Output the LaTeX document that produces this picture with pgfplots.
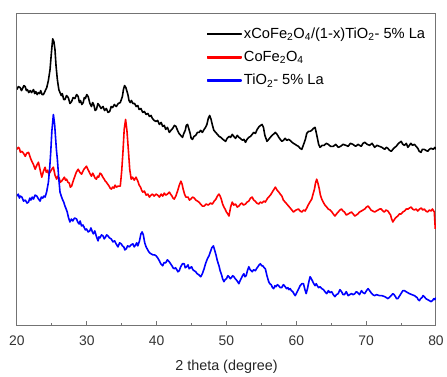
\documentclass[border=0pt]{standalone}
\usepackage{pgfplots}
\pgfplotsset{compat=1.18}
\usepackage{fontspec}
\setmainfont{Liberation Sans}
\begin{document}
\begin{tikzpicture}
\begin{axis}[
  scale only axis, width=421bp, height=313bp,
  xmin=20, xmax=80, ymin=14, ymax=327, y dir=reverse,
  xtick={20,30,...,80}, minor xtick={25,35,...,75},
  xtick pos=bottom, xtick align=inside,
  major tick length=5bp, minor tick length=3bp,
  ytick=\empty,
  axis line style={draw=black!55, line width=1bp},
  every tick/.style={draw=black!55, line width=1bp},
  /pgf/number format/assume math mode=true,
  tick label style={font=\fontsize{14}{16}\selectfont, text=black!80},
  xticklabel style={yshift=-6.5bp},
  xlabel={2 theta (degree)},
  xlabel style={font=\fontsize{14.5}{17}\selectfont, text=black!85, yshift=-8bp},
  legend style={draw=none, fill=none, at={(rel axis cs:0.452,0.962)}, anchor=north west,
    font=\fontsize{14.8}{17}\selectfont, row sep=7.3bp, inner sep=0pt},
  legend cell align=left,
  legend image code/.code={\fill[#1] (0bp,-0.6bp) rectangle (34bp,0.6bp);},
  every axis plot/.append style={line width=1.6bp, line join=round},
]
\addplot[black] coordinates {
(20.00,90) (20.2,87) (20.47,88) (20.65,91) (20.8,89) (21.0,86) (21.19,87) (21.35,91) (21.5,90) (21.7,93) (21.9,91)
(22.1,93) (22.37,90) (22.55,94) (22.7,92) (22.9,95) (23.08,93) (23.25,94) (23.4,91) (23.6,95) (23.79,95) (24.0,92)
(24.27,88) (24.5,81) (24.74,70) (24.95,52) (25.12,39) (25.3,42) (25.45,50) (25.6,66) (25.79,80) (26.0,90) (26.17,93)
(26.35,96) (26.5,94) (26.7,100) (26.88,100) (27.1,96) (27.35,98) (27.6,104) (27.83,102) (28.05,98) (28.3,99)
(28.55,95) (28.77,97) (28.95,103) (29.1,101) (29.3,105) (29.49,103) (29.65,98) (29.8,99) (30.0,95) (30.20,97)
(30.45,104) (30.67,107) (30.85,103) (31.0,105) (31.2,111) (31.38,110) (31.6,104) (31.8,106) (32.05,109) (32.33,107)
(32.55,111) (32.8,109) (33.05,113) (33.28,112) (33.5,107) (33.7,108) (33.95,105) (34.23,107) (34.5,104) (34.80,103)
(35.1,97) (35.25,90) (35.41,86) (35.6,88) (35.89,95) (36.05,101) (36.22,103) (36.4,101) (36.6,104) (36.85,104)
(37.08,107) (37.3,106) (37.5,110) (37.75,109) (38.02,113) (38.25,112) (38.5,115) (38.75,114) (38.97,117) (39.2,116)
(39.4,119) (39.65,121) (39.92,122) (40.15,121) (40.4,125) (40.65,123) (40.87,127) (41.1,126) (41.3,130) (41.55,128)
(41.82,133) (42.05,131) (42.3,129) (42.55,126) (42.77,127) (43.0,131) (43.2,134) (43.45,136) (43.71,138) (43.9,134)
(44.1,131) (44.25,126) (44.43,125) (44.6,129) (44.8,134) (44.95,139) (45.14,140) (45.35,137) (45.6,136) (45.85,133)
(46.09,133) (46.3,131) (46.55,133) (46.80,130) (47.0,128) (47.2,125) (47.4,119) (47.60,116) (47.8,120) (48.0,126)
(48.2,131) (48.46,133) (48.7,135) (48.95,137) (49.2,138) (49.5,140) (49.88,142) (50.1,139) (50.4,137) (50.6,138)
(50.83,135) (51.05,137) (51.3,139) (51.55,136) (51.78,138) (52.0,139) (52.3,141) (52.5,140) (52.73,143) (52.95,140)
(53.2,138) (53.45,137) (53.68,135) (53.9,133) (54.15,134) (54.4,130) (54.7,127) (54.9,126) (55.10,125) (55.3,128)
(55.5,136) (55.81,142) (56.05,140) (56.4,137) (56.7,135) (57.00,133) (57.25,135) (57.5,138) (57.7,140) (57.94,142)
(58.15,141) (58.4,139) (58.65,141) (58.89,140) (59.1,141) (59.4,143) (59.6,144) (59.84,145) (60.05,146) (60.3,147)
(60.55,149) (60.79,150) (61.0,146) (61.3,140) (61.5,134) (61.74,132) (61.95,132) (62.2,131) (62.45,129) (62.69,128)
(62.85,133) (63.0,138) (63.2,145) (63.40,148) (63.7,146) (64.0,146) (64.3,144) (64.58,145) (64.9,147) (65.3,147)
(65.65,145) (66.01,148) (66.35,147) (66.7,145) (67.1,146) (67.43,147) (67.75,144) (68.1,145) (68.5,147) (68.85,145)
(69.05,146) (69.3,147) (69.55,144) (69.8,143) (70.15,145) (70.5,146) (70.85,144) (71.22,148) (71.55,146) (71.9,147)
(72.25,148) (72.65,150) (72.9,148) (73.1,149) (73.35,151) (73.6,152) (73.95,149) (74.3,147) (74.65,144) (75.02,142)
(75.25,145) (75.5,146) (75.75,144) (75.97,148) (76.2,146) (76.4,144) (76.65,146) (76.92,145) (77.15,147) (77.4,149)
(77.6,152) (77.86,153) (78.05,150) (78.3,150) (78.55,151) (78.81,152) (79.05,150) (79.3,149) (79.6,150) (79.86,148)
(80.0,150)
};
\addlegendentry{xCoFe\textsubscript{2}O\textsubscript{4}/(1-x)TiO\textsubscript{2}- 5\% La}
\addplot[red] coordinates {
(20.00,150) (20.2,148) (20.35,149) (20.5,153) (20.71,152) (20.95,154) (21.19,157) (21.4,154) (21.66,153) (21.9,158)
(22.13,162) (22.35,165) (22.61,170) (22.85,166) (23.08,163) (23.3,170) (23.56,178) (23.8,172) (24.03,168) (24.2,173)
(24.4,171) (24.55,175) (24.74,173) (25.0,170) (25.22,168) (25.45,176) (25.69,180) (25.85,177) (26.05,179) (26.2,183)
(26.40,182) (26.6,180) (26.8,178) (26.95,181) (27.11,180) (27.3,183) (27.5,184) (27.65,188) (27.83,187) (28.05,182)
(28.3,177) (28.5,173) (28.77,170) (29.0,173) (29.25,175) (29.6,170) (29.96,167) (30.15,170) (30.3,172) (30.5,175)
(30.67,177) (30.85,174) (31.0,176) (31.2,179) (31.38,180) (31.55,177) (31.7,178) (31.9,174) (32.09,175) (32.3,178)
(32.5,180) (32.65,182) (32.81,183) (33.0,185) (33.2,187) (33.35,189) (33.52,190) (33.7,188) (33.9,189) (34.05,186)
(34.23,188) (34.5,187) (34.80,187) (35.0,172) (35.18,153) (35.36,130) (35.56,120) (35.75,131) (35.98,153) (36.15,170)
(36.36,180) (36.55,178) (36.8,181) (37.05,178) (37.31,182) (37.5,186) (37.7,188) (37.85,191) (38.02,193) (38.25,192)
(38.5,196) (38.75,195) (38.97,198) (39.2,196) (39.4,195) (39.65,197) (39.92,195) (40.15,196) (40.4,198) (40.65,195)
(40.87,197) (41.1,194) (41.3,196) (41.55,195) (41.82,193) (42.0,195) (42.2,197) (42.35,199) (42.53,200) (42.75,197)
(43.0,192) (43.25,186) (43.48,182) (43.65,185) (43.8,190) (44.0,195) (44.19,198) (44.5,198) (44.70,201) (44.90,200)
(45.15,198) (45.4,199) (45.6,201) (45.85,202) (46.05,203) (46.3,205) (46.55,207) (46.80,207) (47.1,205) (47.4,206)
(47.7,204) (47.98,205) (48.25,202) (48.5,200) (48.7,197) (48.93,195) (49.1,197) (49.3,201) (49.45,205) (49.64,208)
(49.8,210) (50.0,213) (50.2,215) (50.36,217) (50.6,208) (50.83,203) (51.05,206) (51.3,205) (51.55,208) (51.78,207)
(52.0,205) (52.2,204) (52.45,206) (52.73,205) (52.95,203) (53.2,202) (53.45,199) (53.68,198) (53.9,201) (54.1,202)
(54.35,204) (54.62,205) (54.85,203) (55.1,204) (55.35,202) (55.57,203) (55.9,199) (56.3,196) (56.65,192) (57.00,188)
(57.25,191) (57.5,193) (57.7,195) (57.94,197) (58.15,201) (58.4,203) (58.65,205) (58.89,207) (59.25,210) (59.60,213)
(59.95,211) (60.32,210) (60.55,212) (60.8,213) (61.05,211) (61.26,212) (61.5,209) (61.7,206) (61.95,203) (62.21,200)
(62.4,195) (62.6,190) (62.75,184) (62.92,180) (63.1,184) (63.3,190) (63.45,196) (63.64,200) (63.85,203) (64.1,206)
(64.35,208) (64.58,210) (64.85,211) (65.1,213) (65.3,215) (65.53,217) (65.75,215) (66.0,213) (66.25,211) (66.48,210)
(66.7,212) (66.9,213) (67.15,216) (67.43,215) (67.65,214) (67.9,213) (68.15,215) (68.38,217) (68.6,216) (68.8,215)
(69.05,213) (69.33,212) (69.55,211) (69.8,210) (70.05,208) (70.28,207) (70.5,209) (70.7,211) (70.95,212) (71.22,213)
(71.45,212) (71.7,211) (71.95,210) (72.17,210) (72.4,212) (72.6,213) (72.85,211) (73.12,212) (73.3,214) (73.5,216)
(73.65,220) (73.83,223) (74.0,221) (74.2,219) (74.35,218) (74.54,217) (74.75,215) (75.0,215) (75.25,213) (75.49,212)
(75.75,210) (76.0,210) (76.2,209) (76.44,208) (76.65,210) (76.9,211) (77.15,210) (77.39,212) (77.65,210) (77.9,209)
(78.1,211) (78.33,210) (78.55,212) (78.8,213) (79.05,211) (79.29,212) (79.5,210) (79.76,213) (79.90,230)
};
\addlegendentry{CoFe\textsubscript{2}O\textsubscript{4}}
\addplot[blue] coordinates {
(20.00,197) (20.2,195) (20.35,199) (20.5,197) (20.71,198) (20.95,202) (21.2,201) (21.45,204) (21.66,203) (21.85,199)
(22.0,201) (22.2,198) (22.37,200) (22.6,196) (22.85,197) (23.1,200) (23.32,202) (23.5,198) (23.7,199) (23.85,197)
(24.03,198) (24.25,193) (24.51,183) (24.7,168) (24.84,153) (25.0,132) (25.22,115) (25.4,125) (25.55,140) (25.65,150)
(25.79,160) (26.0,180) (26.17,193) (26.35,197) (26.5,200) (26.7,203) (26.88,207) (27.05,210) (27.2,213) (27.4,219)
(27.59,223) (27.8,220) (28.0,222) (28.25,219) (28.54,220) (28.7,223) (28.9,225) (29.05,222) (29.25,227) (29.45,226)
(29.6,228) (29.8,231) (29.96,230) (30.2,233) (30.43,232) (30.6,229) (30.8,233) (30.95,235) (31.15,232) (31.4,238)
(31.62,242) (31.75,238) (31.9,239) (32.1,236) (32.33,237) (32.5,240) (32.7,238) (32.85,236) (33.04,237) (33.25,239)
(33.5,240) (33.75,243) (33.99,242) (34.2,245) (34.47,248) (34.7,244) (34.94,245) (35.1,247) (35.3,248) (35.45,251)
(35.65,250) (35.85,247) (36.1,248) (36.35,246) (36.60,245) (36.8,248) (37.0,246) (37.15,244) (37.31,247) (37.55,242)
(37.75,235) (37.93,233) (38.1,236) (38.3,244) (38.50,248) (38.65,250) (38.8,252) (39.0,254) (39.21,255) (39.45,256)
(39.7,256) (39.92,257) (40.15,259) (40.4,262) (40.6,265) (40.87,267) (41.05,264) (41.3,264) (41.55,261) (41.82,263)
(42.0,265) (42.2,267) (42.35,269) (42.53,270) (42.7,269) (42.9,271) (43.05,273) (43.24,272) (43.45,268) (43.7,265)
(43.95,265) (44.1,269) (44.3,268) (44.5,266) (44.66,270) (44.85,269) (45.0,268) (45.2,271) (45.38,272) (45.6,273)
(45.8,275) (46.05,276) (46.32,278) (46.55,275) (46.8,270) (47.0,265) (47.27,260) (47.5,257) (47.7,253) (47.9,249)
(48.13,247) (48.3,251) (48.5,256) (48.7,262) (48.93,267) (49.1,272) (49.3,276) (49.45,280) (49.64,283) (49.8,281)
(50.0,280) (50.2,277) (50.36,278) (50.55,280) (50.7,279) (50.9,277) (51.07,278) (51.25,280) (51.4,281) (51.6,283)
(51.78,285) (51.95,282) (52.1,280) (52.3,277) (52.49,275) (52.65,278) (52.82,277) (53.0,272) (53.20,268) (53.4,271)
(53.68,273) (53.9,271) (54.15,272) (54.3,270) (54.5,268) (54.7,266) (54.86,265) (55.05,267) (55.2,267) (55.4,269)
(55.57,270) (55.8,277) (56.05,283) (56.2,285) (56.4,286) (56.6,289) (56.76,290) (56.95,287) (57.1,288) (57.3,286)
(57.47,287) (57.7,289) (57.9,289) (58.15,286) (58.42,288) (58.6,290) (58.8,289) (58.95,291) (59.13,290) (59.3,292)
(59.5,293) (59.65,295) (59.84,297) (60.0,295) (60.2,292) (60.35,290) (60.55,287) (60.8,285) (61.03,285) (61.2,290)
(61.41,295) (61.6,290) (61.8,283) (61.98,278) (62.15,280) (62.3,282) (62.5,285) (62.69,287) (62.85,285) (63.0,287)
(63.2,289) (63.40,288) (63.65,290) (63.9,291) (64.1,293) (64.35,295) (64.6,292) (64.8,294) (65.06,293) (65.3,296)
(65.53,298) (65.75,296) (66.0,295) (66.25,291) (66.48,293) (66.7,296) (66.9,296) (67.15,293) (67.43,297) (67.65,296)
(67.9,295) (68.15,296) (68.38,295) (68.6,293) (68.8,294) (69.05,296) (69.33,292) (69.55,294) (69.80,295) (70.05,292)
(70.28,290) (70.5,292) (70.7,294) (70.95,296) (71.22,297) (71.5,296) (71.9,297) (72.25,297) (72.65,298) (72.9,299)
(73.12,300) (73.45,298) (73.83,295) (74.0,296) (74.2,298) (74.35,300) (74.54,300) (74.9,296) (75.26,292) (75.5,292)
(75.7,293) (75.95,294) (76.20,295) (76.55,296) (76.92,297) (77.1,298) (77.3,299) (77.45,301) (77.63,302) (77.8,300)
(78.0,299) (78.15,297) (78.33,298) (78.55,300) (78.8,301) (79.05,302) (79.29,303) (79.5,302) (79.7,300) (79.86,301)
(80.0,299)
};
\addlegendentry{TiO\textsubscript{2}- 5\% La}
\end{axis}
\path ([xshift=-17bp,yshift=-44bp]current axis.south west) rectangle ([xshift=9bp,yshift=14bp]current axis.north east);
\end{tikzpicture}
\end{document}
